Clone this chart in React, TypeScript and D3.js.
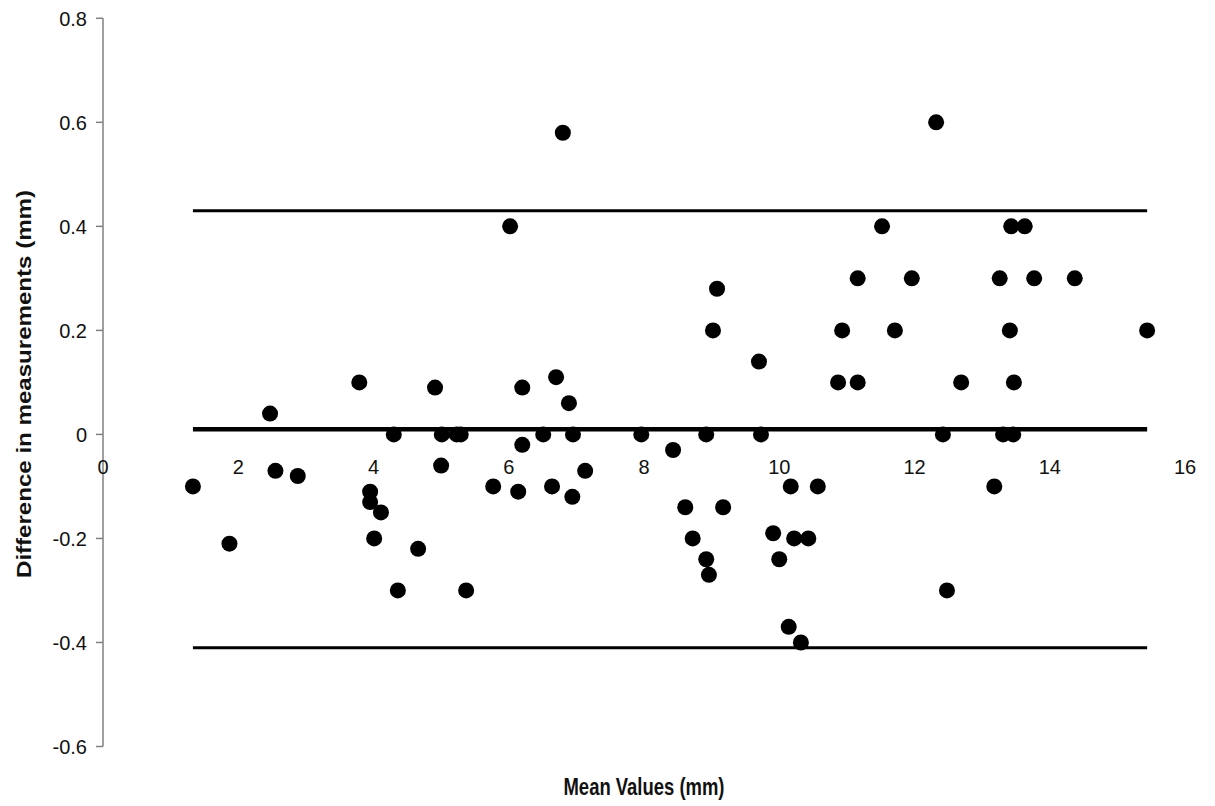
import * as d3 from "d3";
import React from "react";

// Bland-Altman style plot: mean of two measurements vs their difference
const meanValues = [
  1.33, 1.87, 2.47, 2.55, 2.88, 3.79, 3.95, 3.95, 4.11, 4.01, 4.3, 4.36, 4.66,
  4.91, 5.01, 5.0, 5.23, 5.29, 5.37, 5.77, 6.02, 6.14, 6.2, 6.2, 6.51, 6.64,
  6.7, 6.8, 6.89, 6.94, 6.95, 7.13, 7.96, 8.43, 8.61, 8.72, 8.92, 8.92, 8.96,
  9.02, 9.08, 9.17, 9.7, 9.73, 9.91, 10.0, 10.14, 10.17, 10.22, 10.32, 10.43,
  10.57, 10.87, 10.93, 11.16, 11.16, 11.52, 11.71, 11.96, 12.32, 12.42, 12.48,
  12.69, 13.18, 13.26, 13.31, 13.46, 13.41, 13.43, 13.47, 13.63, 13.77, 14.37,
  15.44,
];
const differences = [
  -0.1, -0.21, 0.04, -0.07, -0.08, 0.1, -0.11, -0.13, -0.15, -0.2, 0, -0.3,
  -0.22, 0.09, 0, -0.06, 0, 0, -0.3, -0.1, 0.4, -0.11, 0.09, -0.02, 0, -0.1,
  0.11, 0.58, 0.06, -0.12, 0, -0.07, 0, -0.03, -0.14, -0.2, 0, -0.24, -0.27,
  0.2, 0.28, -0.14, 0.14, 0, -0.19, -0.24, -0.37, -0.1, -0.2, -0.4, -0.2, -0.1,
  0.1, 0.2, 0.1, 0.3, 0.4, 0.2, 0.3, 0.6, 0, -0.3, 0.1, -0.1, 0.3, 0, 0, 0.2,
  0.4, 0.1, 0.4, 0.3, 0.3, 0.2,
];

// mean difference and limits of agreement
const limitValues = [0.43, 0.01, -0.41];
const limitWidths = [3, 4.5, 3];

const xTicks = [0, 2, 4, 6, 8, 10, 12, 14, 16];
const yTicks = [-0.6, -0.4, -0.2, 0, 0.2, 0.4, 0.6, 0.8];

const width = 1215;
const height = 806;

const x = d3.scaleLinear().domain([0, 16]).range([103, 1185]);
const y = d3.scaleLinear().domain([-0.6, 0.8]).range([746.5, 18.3]);

const font = "'Liberation Sans', Arial, sans-serif";

// plain hyphen for negatives, like the original
const fmt = (t: number) => String(+t.toFixed(1));

export default function App() {
  const points = d3.zip(meanValues, differences);
  const [xMin, xMax] = d3.extent(meanValues) as [number, number];

  return (
    <svg
      width={width}
      height={height}
      style={{ position: "absolute", left: 0, top: 0, background: "#fff" }}
      fontFamily={font}
    >
      {/* y axis */}
      <line
        x1={x(0)}
        x2={x(0)}
        y1={y(0.8)}
        y2={y(-0.6)}
        stroke="#808080"
        strokeWidth={1.5}
      />
      {yTicks.map((t) => (
        <g key={t}>
          <line
            x1={x(0) - 7}
            x2={x(0)}
            y1={y(t)}
            y2={y(t)}
            stroke="#808080"
            strokeWidth={1.5}
          />
          <text
            x={x(0) - 16}
            y={y(t)}
            dy="0.36em"
            textAnchor="end"
            fontSize={20}
            fill="#111"
          >
            {fmt(t)}
          </text>
        </g>
      ))}

      {/* x tick labels sit just under the zero line */}
      {xTicks.map((t) => (
        <text
          key={t}
          x={x(t)}
          y={y(0) + 40}
          textAnchor="middle"
          fontSize={20}
          fill="#111"
        >
          {t}
        </text>
      ))}

      {/* limit lines */}
      {limitValues.map((v, i) => (
        <line
          key={v}
          x1={x(xMin)}
          x2={x(xMax)}
          y1={y(v)}
          y2={y(v)}
          stroke="#000"
          strokeWidth={limitWidths[i]}
        />
      ))}

      {points.map(([m, d], i) => (
        <circle key={i} cx={x(m)} cy={y(d)} r={8} fill="#000" />
      ))}

      {/* axis titles */}
      <text
        x={644}
        y={795}
        textAnchor="middle"
        fontSize={24}
        fontWeight="bold"
        textLength={161}
        lengthAdjust="spacingAndGlyphs"
        fill="#111"
      >
        Mean Values (mm)
      </text>
      <text
        transform={`translate(31, 384) rotate(-90)`}
        textAnchor="middle"
        fontSize={20}
        fontWeight="bold"
        textLength={388}
        lengthAdjust="spacingAndGlyphs"
        fill="#111"
      >
        Difference in measurements (mm)
      </text>
    </svg>
  );
}
